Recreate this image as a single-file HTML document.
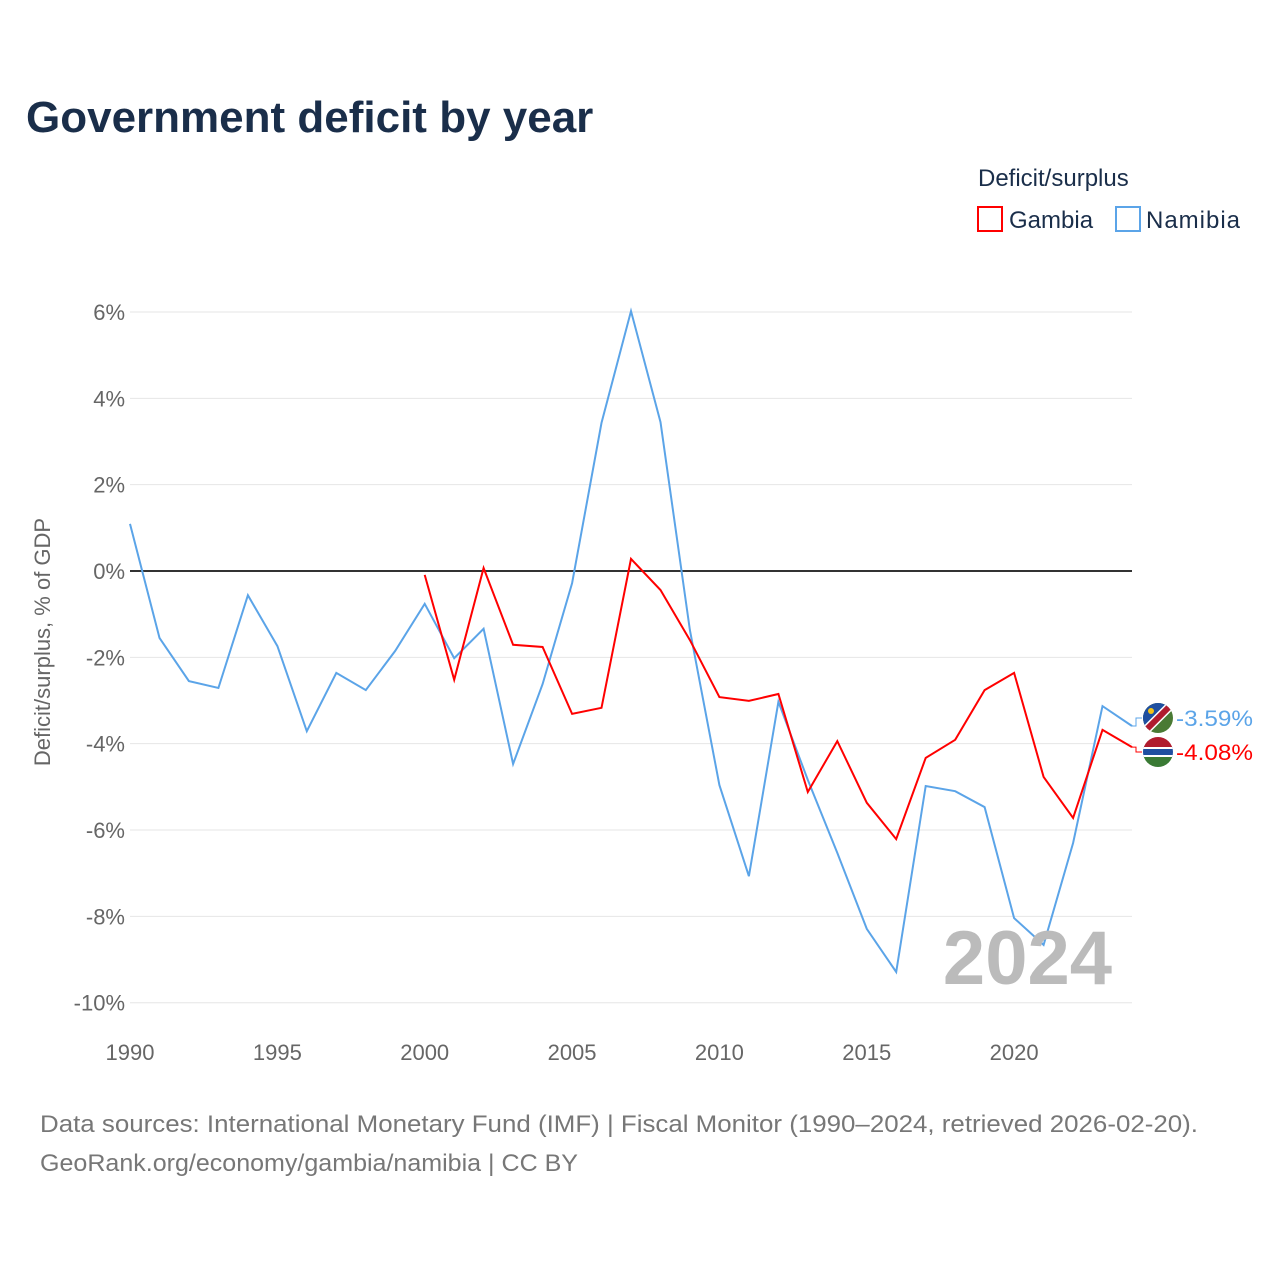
<!DOCTYPE html>
<html><head><meta charset="utf-8"><style>
body{margin:0;background:#fff;font-family:"Liberation Sans",sans-serif;}
svg text{font-family:"Liberation Sans",sans-serif;}
</style></head><body>
<svg id="chart" width="1280" height="1280" viewBox="0 0 1280 1280" xmlns="http://www.w3.org/2000/svg">
<rect width="1280" height="1280" fill="#fff"/>
<text x="26" y="132" font-size="44" font-weight="bold" fill="#1a2e4a">Government deficit by year</text>
<text x="978" y="186" font-size="24" fill="#1a2e4a">Deficit/surplus</text>
<g><rect x="978" y="207" width="24" height="24" fill="none" stroke="#f00" stroke-width="2"/><text x="1009" y="228" font-size="24" fill="#1a2e4a">Gambia</text></g>
<g><rect x="1116" y="207" width="24" height="24" fill="none" stroke="#5ba4e8" stroke-width="2"/><text x="1146" y="228" font-size="24" fill="#1a2e4a" textLength="94">Namibia</text></g>
<text transform="translate(50,642) rotate(-90)" text-anchor="middle" font-size="22" fill="#666">Deficit/surplus, % of GDP</text>
<g id="grid"></g><g id="series"></g>
<text x="1112" y="984" text-anchor="end" font-size="76" font-weight="bold" fill="#bbb">2024</text>
<text x="40" y="1132" font-size="24" fill="#777" textLength="1158" lengthAdjust="spacingAndGlyphs">Data sources: International Monetary Fund (IMF) | Fiscal Monitor (1990–2024, retrieved 2026-02-20).</text>
<text x="40" y="1171" font-size="24" fill="#777" textLength="538" lengthAdjust="spacingAndGlyphs">GeoRank.org/economy/gambia/namibia | CC BY</text>
</svg>
<script>
const years=[];for(let y=1990;y<=2024;y++)years.push(y);
const namibia=[1.09,-1.55,-2.55,-2.71,-0.56,-1.74,-3.71,-2.36,-2.76,-1.85,-0.76,-2.02,-1.34,-4.47,-2.62,-0.28,3.43,6.02,3.45,-1.37,-4.96,-7.07,-3.03,-4.84,-6.53,-8.29,-9.29,-4.98,-5.10,-5.47,-8.04,-8.66,-6.30,-3.13,-3.59];
const gambiaYears=[2000,2001,2002,2003,2004,2005,2006,2007,2008,2009,2010,2011,2012,2013,2014,2015,2016,2017,2018,2019,2020,2021,2022,2023,2024];
const gambia=[-0.09,-2.52,0.07,-1.71,-1.76,-3.31,-3.17,0.28,-0.44,-1.6,-2.92,-3.01,-2.85,-5.12,-3.94,-5.37,-6.21,-4.33,-3.91,-2.76,-2.36,-4.77,-5.72,-3.68,-4.08];
const yTicks=[6,4,2,0,-2,-4,-6,-8,-10];
const xTicks=[1990,1995,2000,2005,2010,2015,2020];
const NS='http://www.w3.org/2000/svg';
const x=v=>130+(v-1990)*(1132-130)/34;
const y=v=>571-v*43.17;
function mk(t,a,p){const e=document.createElementNS(NS,t);for(const k in a)e.setAttribute(k,a[k]);p.appendChild(e);return e;}
const grid=document.getElementById('grid'),ser=document.getElementById('series');
yTicks.forEach(t=>{
 const l=mk('line',{x1:130,x2:1132,y1:y(t),y2:y(t),stroke:t===0?'#333':'#e6e6e6','stroke-width':t===0?2:1},grid);
 
 
 const tx=mk('text',{x:125,y:y(t)+8,'text-anchor':'end','font-size':22,fill:'#666'},grid);tx.textContent=t+'%';
 
 
});
xTicks.forEach(t=>{
 const tx=mk('text',{x:x(t),y:1060,'text-anchor':'middle','font-size':22,fill:'#666'},grid);tx.textContent=t;
 
 
});
function line(xs,vs,c,name){
 const p=mk('path',{d:vs.map((v,i)=>(i?'L':'M')+x(xs[i]).toFixed(1)+','+y(v).toFixed(1)).join(''),fill:'none',stroke:c,'stroke-width':2},ser);
 
 
}
line(years,namibia,'#5ba4e8','namibia-line');
line(gambiaYears,gambia,'#f00','gambia-line');
function endLabel(v,ly,c,name,flag){
 const ex=x(2024),ey=y(v);
 const g=mk('g',{},ser);
 
 
 mk('path',{d:`M${ex},${ey}L${ex+4},${ey}L${ex+4},${ly}L${ex+10},${ly}`,stroke:c,fill:'none','stroke-width':1},g);
 const cx=1158;
 const id=flag==='nam'?'cn':'cg';
 const cp=mk('clipPath',{id:id},g);mk('circle',{cx:cx,cy:ly,r:15},cp);
 const fg=mk('g',{'clip-path':`url(#${id})`},g);
 if(flag==='nam'){
  mk('rect',{x:cx-15,y:ly-15,width:30,height:30,fill:'#4a7a34'},fg);
  mk('polygon',{points:`${cx-15},${ly-15} ${cx+15},${ly-15} ${cx-15},${ly+15}`,fill:'#1f4fa0'},fg);
  mk('line',{x1:cx-17,y1:ly+17,x2:cx+17,y2:ly-17,stroke:'#fff','stroke-width':9},fg);
  mk('line',{x1:cx-17,y1:ly+17,x2:cx+17,y2:ly-17,stroke:'#b01c2e','stroke-width':6},fg);
  mk('circle',{cx:cx-7,cy:ly-7,r:3,fill:'#f3c218'},fg);
 } else {
  mk('rect',{x:cx-15,y:ly-15,width:30,height:10,fill:'#b01c2e'},fg);
  mk('rect',{x:cx-15,y:ly-5,width:30,height:10,fill:'#1f4fa0'},fg);
  mk('rect',{x:cx-15,y:ly-5,width:30,height:2,fill:'#fff'},fg);
  mk('rect',{x:cx-15,y:ly+3,width:30,height:2,fill:'#fff'},fg);
  mk('rect',{x:cx-15,y:ly+5,width:30,height:10,fill:'#3a7a34'},fg);
 }
 const t=mk('text',{x:1176,y:ly+8,'font-size':22,fill:c,textLength:77,lengthAdjust:'spacingAndGlyphs'},g);t.textContent=v.toFixed(2)+'%';
}
endLabel(namibia[namibia.length-1],718,'#5ba4e8','namibia-end-label','nam');
endLabel(gambia[gambia.length-1],752,'#f00','gambia-end-label','gam');
</script>
</body></html>
